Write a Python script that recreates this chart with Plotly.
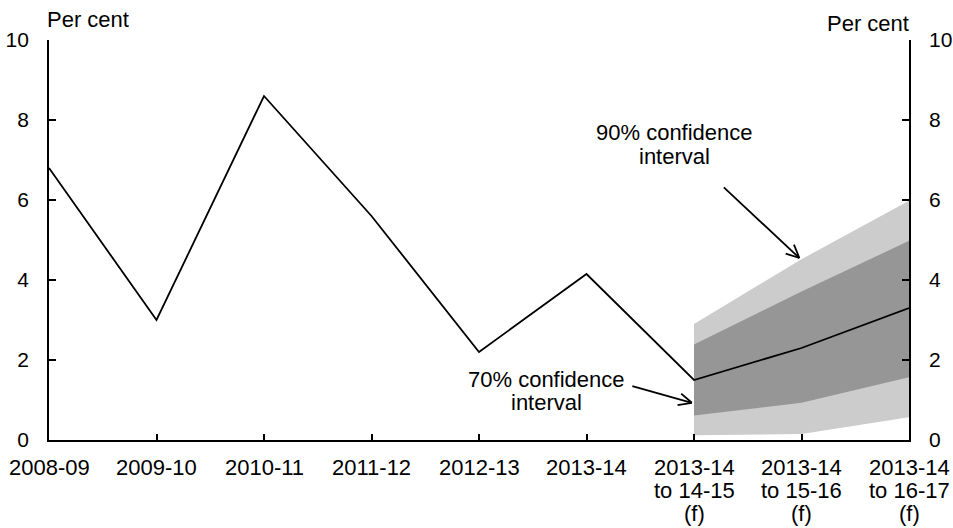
import numpy as np
import plotly.graph_objects as go

# Annual growth, per cent, with forecast bands
periods = ["2008-09", "2009-10", "2010-11", "2011-12", "2012-13", "2013-14",
           "2013-14<br>to 14-15<br>(f)", "2013-14<br>to 15-16<br>(f)", "2013-14<br>to 16-17<br>(f)"]
growth = [6.8, 3.0, 8.6, 5.6, 2.2, 4.15, 1.5, 2.3, 3.3]

# Forecast confidence intervals (forecast periods only)
fc_idx = [6, 7, 8]
ci90_low = [0.12, 0.15, 0.57]
ci90_high = [2.9, 4.52, 5.98]
ci70_low = [0.61, 0.93, 1.57]
ci70_high = [2.39, 3.71, 4.98]

y_ticks = [0, 2, 4, 6, 8, 10]

FONT = "Arial, Liberation Sans, sans-serif"
FS = 22
TICK_FS = 21
LIGHT = "#cccccc"
DARK = "#969696"
LINE_PITCH = 23

x = list(range(len(periods)))

fig = go.Figure()
fig.add_trace(go.Scatter(x=fc_idx, y=ci90_low, mode="lines", line=dict(width=0),
                         hoverinfo="skip", showlegend=False))
fig.add_trace(go.Scatter(x=fc_idx, y=ci90_high, mode="lines", line=dict(width=0),
                         fill="tonexty", fillcolor=LIGHT, hoverinfo="skip", showlegend=False))
fig.add_trace(go.Scatter(x=fc_idx, y=ci70_low, mode="lines", line=dict(width=0),
                         hoverinfo="skip", showlegend=False))
fig.add_trace(go.Scatter(x=fc_idx, y=ci70_high, mode="lines", line=dict(width=0),
                         fill="tonexty", fillcolor=DARK, hoverinfo="skip", showlegend=False))
fig.add_trace(go.Scatter(x=x, y=growth, mode="lines", line=dict(color="black", width=1.8),
                         showlegend=False))
# invisible trace to activate the right-hand axis
fig.add_trace(go.Scatter(x=[0], y=[0], yaxis="y2", mode="markers",
                         marker=dict(opacity=0), hoverinfo="skip", showlegend=False))

axis_common = dict(range=[0, 10], tickvals=y_ticks, ticks="inside", ticklen=7,
                   tickcolor="black", tickwidth=1.5, showline=True, linecolor="black",
                   linewidth=1.8, showgrid=False, zeroline=False, automargin=False,
                   tickfont=dict(family=FONT, size=TICK_FS, color="black"),
                   ticklabelstandoff=14, fixedrange=True)

fig.update_layout(
    width=953, height=528,
    margin=dict(l=49, r=44, t=40, b=88),
    paper_bgcolor="white", plot_bgcolor="white",
    font=dict(family=FONT, size=FS, color="black"),
    xaxis=dict(range=[0, 8], tickvals=x, ticks="inside", ticklen=6,
               tickcolor="black", tickwidth=1.5, showline=True, linecolor="black",
               linewidth=1.8, showgrid=False, zeroline=False, automargin=False,
               showticklabels=False, fixedrange=True),
    yaxis=dict(side="left", **axis_common),
    yaxis2=dict(side="right", overlaying="y", **axis_common),
)

# Category labels under the axis, one annotation per line for tight spacing
for xi, label in zip(x, periods):
    for li, part in enumerate(label.split("<br>")):
        fig.add_annotation(text=part, x=xi, xref="x", y=0, yref="paper",
                           yanchor="middle", yshift=-(27 + li * LINE_PITCH),
                           showarrow=False, font=dict(family=FONT, size=FS))

# Unit labels
fig.add_annotation(text="Per cent", xref="paper", yref="paper", x=0, y=1,
                   xanchor="left", yanchor="bottom", yshift=6, xshift=-4, showarrow=False,
                   font=dict(family=FONT, size=FS))
fig.add_annotation(text="Per cent", xref="paper", yref="paper", x=1, y=1,
                   xanchor="right", yanchor="bottom", yshift=2, xshift=2, showarrow=False,
                   font=dict(family=FONT, size=FS))


def text_block(lines, cx, cy, pitch=24):
    """Centred multi-line label with a fixed line pitch (pixels)."""
    n = len(lines)
    for i, s in enumerate(lines):
        off = ((n - 1) / 2 - i) * pitch
        fig.add_annotation(text=s, x=cx, y=cy, yshift=off, showarrow=False,
                           font=dict(family=FONT, size=FS))


# Band labels
text_block(["90% confidence", "interval"], 5.82, 7.4)
text_block(["70% confidence", "interval"], 4.63, 1.23, pitch=23)


def open_arrow(tip_x, tip_y, dx, dy, head_len=16, spread_deg=25):
    """Shaft from a pixel offset (dx, dy) to the tip, plus an open V head."""
    fig.add_annotation(x=tip_x, y=tip_y, ax=dx, ay=dy, text="", showarrow=True,
                       arrowhead=0, arrowwidth=1.8, arrowcolor="black", standoff=0)
    u = np.array([dx, dy], dtype=float)
    u /= np.linalg.norm(u)
    for sgn in (1, -1):
        a = np.radians(sgn * spread_deg)
        rot = np.array([[np.cos(a), -np.sin(a)], [np.sin(a), np.cos(a)]])
        b = rot @ u * head_len
        fig.add_annotation(x=tip_x, y=tip_y, ax=float(b[0]), ay=float(b[1]), text="",
                           showarrow=True, arrowhead=0, arrowwidth=1.8,
                           arrowcolor="black", standoff=0)


open_arrow(6.98, 4.55, -77, -72)
open_arrow(5.98, 0.93, -61, -17)

fig.write_html("out.html")
